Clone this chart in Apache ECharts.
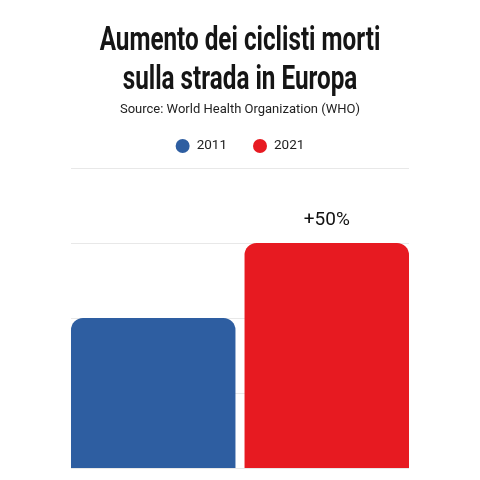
<!DOCTYPE html>
<html><head><meta charset="utf-8">
<script src="https://cdn.jsdelivr.net/npm/echarts@6/dist/echarts.min.js"></script>
<style>html,body{margin:0;padding:0;background:#fff}#c{width:480px;height:480px}</style>
</head><body><div id="c"></div>
<script>
const titleLines = ['Aumento dei ciclisti morti', 'sulla strada in Europa'];
const subtitleText = 'Source: World Health Organization (WHO)';
const categories = ['Europa'];
const seriesNames = ['2011', '2021'];
const values2011 = [100];
const values2021 = [150];
const labels2021 = ['+50%'];
const colors = ['#2E5EA1', '#E71A21'];

const chart = echarts.init(document.getElementById('c'));
chart.setOption({
  animation: false,
  backgroundColor: '#fff',
  graphic: titleLines.map((t, i) => ({
    type: 'text', x: 240, y: 25 + i * 39.5, scaleX: 0.735,
    style: {text: t, textAlign: 'center', textVerticalAlign: 'top',
      font: 'bold 33px Roboto', fill: '#151515'}
  })),
  title: [{
    text: subtitleText,
    left: 'center', top: 98,
    textStyle: {fontFamily: 'Roboto', fontWeight: 'normal', fontSize: 13, color: '#222'}
  }],
  legend: {
    data: seriesNames, top: 134, left: 'center', icon: 'circle',
    itemWidth: 14, itemHeight: 14, itemGap: 26,
    textStyle: {fontFamily: 'Roboto', fontSize: 13.5, color: '#222', padding: [0, 0, 0, 2]}
  },
  grid: {left: 71, right: 71, top: 168, bottom: 12},
  xAxis: {type: 'category', data: categories, show: false},
  yAxis: {type: 'value', min: 0, max: 200, interval: 50,
    axisLabel: {show: false}, axisLine: {show: false}, axisTick: {show: false},
    splitLine: {lineStyle: {color: '#e8e8e8', width: 1}}},
  series: [{
    name: seriesNames[0], type: 'bar', data: values2011,
    barWidth: 165, barGap: '5.5%',
    itemStyle: {color: colors[0], borderRadius: [12, 12, 0, 0]}
  }, {
    name: seriesNames[1], type: 'bar', data: values2021,
    barWidth: 165,
    itemStyle: {color: colors[1], borderRadius: [12, 12, 0, 0]},
    label: {show: true, position: 'top', distance: 13, formatter: (p) => labels2021[p.dataIndex],
      fontFamily: 'Roboto', fontSize: 19, color: '#111'}
  }]
});
</script></body></html>
